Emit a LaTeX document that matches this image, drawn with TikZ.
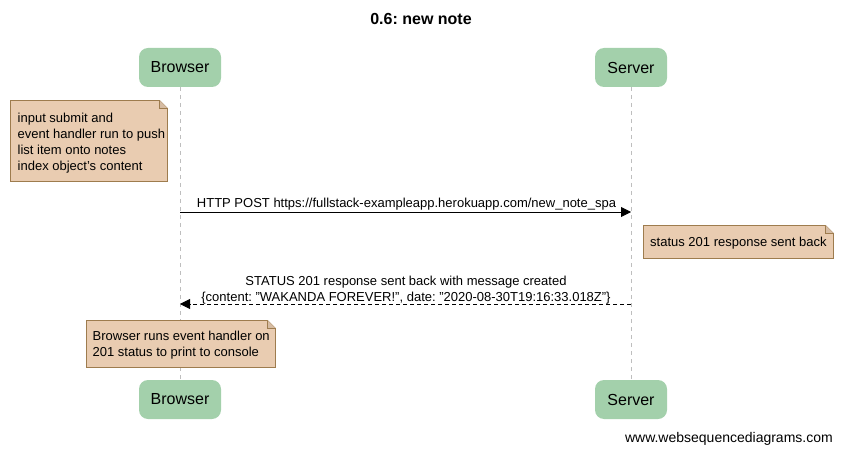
\documentclass[tikz,border=0pt]{standalone}
\usepackage{fontspec}
\setmainfont{Liberation Sans}
\usetikzlibrary{arrows.meta}
\frenchspacing
\definecolor{actorfill}{RGB}{163,208,171}
\definecolor{notefill}{RGB}{233,204,177}
\definecolor{notedraw}{RGB}{158,124,78}
\definecolor{lifegray}{RGB}{190,190,190}
\tikzset{
  actor/.style={rounded corners=9pt, fill=actorfill, draw=none, font=\fontsize{16}{18}\selectfont, inner sep=0pt},
  notetext/.style={font=\fontsize{13}{16}\selectfont, align=left, anchor=north west, inner sep=0pt},
  notebox/.style={fill=notefill, draw=notedraw, line width=0.8pt},
  msg/.style={font=\fontsize{13}{16}\selectfont, inner sep=0pt, align=center},
  lifeline/.style={draw=lifegray, dash pattern=on 4pt off 4pt, line width=0.8pt},
  arr/.style={line width=0.9pt, -{Triangle[length=10pt,width=10pt]}},
}
\newcommand{\notebg}[5]{% name x1 y1 x2 y2
  \coordinate (#1-nw) at (#2,#3);
  \coordinate (#1-se) at (#4,#5);
  \path[notebox] (#2,#3) -- ({#4-8},#3) -- (#4,{#3+8}) -- (#4,#5) -- (#2,#5) -- cycle;
  \path[notebox, fill=notefill!80!black!40!notefill] ({#4-8},#3) -- ({#4-8},{#3+8}) -- (#4,{#3+8});
}
\begin{document}
\begin{tikzpicture}[x=1pt,y=-1pt]
\useasboundingbox (0,0) rectangle (842,454);
\node[font=\bfseries\fontsize{16}{18}\selectfont] (title) at (421,19) {0.6: new note};

\coordinate (bt) at (180,87);
\coordinate (bb) at (180,380);
\coordinate (st) at (631,87);
\coordinate (sb) at (631,380);
\draw[lifeline] (bt) -- (bb);
\draw[lifeline] (st) -- (sb);

\node[actor, minimum width=82pt, minimum height=39pt] (b1) at (180,67.5) {Browser};
\node[actor, minimum width=72pt, minimum height=39pt] (s1) at (631,67.5) {Server};
\node[actor, minimum width=82pt, minimum height=39pt] (b2) at (180,399.5) {Browser};
\node[actor, minimum width=72pt, minimum height=39pt] (s2) at (631,399.5) {Server};

% note 1
\notebg{n1}{10.5}{100.5}{167.5}{181.5}
\node[notetext] (note1) at (17.5,112.5) {input submit and\\event handler run to push\\list item onto notes\\index object's content};

% message 1
\coordinate (m1a) at (180,212);
\coordinate (m1b) at (631,212);
\draw[arr] (m1a) -- (m1b);
\node[msg] (l1) at (406.5,204.5) {HTTP POST https://fullstack-exampleapp.herokuapp.com/new\_note\_spa};

% note 2
\notebg{n2}{643.5}{225.5}{833.5}{258.5}
\node[notetext] (note2) at (650,236.5) {status 201 response sent back};

% message 2
\coordinate (m2a) at (631,304);
\coordinate (m2b) at (180,304);
\draw[arr, dash pattern=on 4pt off 3pt] (m2a) -- (m2b);
\node[msg] (l2) at (406,290.5) {STATUS 201 response sent back with message created\\\{content: "WAKANDA FOREVER!", date: "2020-08-30T19:16:33.018Z"\}};

% note 3
\notebg{n3}{86.5}{320.5}{275.5}{367.5}
\node[notetext] (note3) at (92.5,330.5) {Browser runs event handler on\\201 status to print to console};

\node[font=\fontsize{14}{16}\selectfont, anchor=east, inner sep=0pt] (wsd) at (833,438.5) {www.websequencediagrams.com};
\end{tikzpicture}
\end{document}
